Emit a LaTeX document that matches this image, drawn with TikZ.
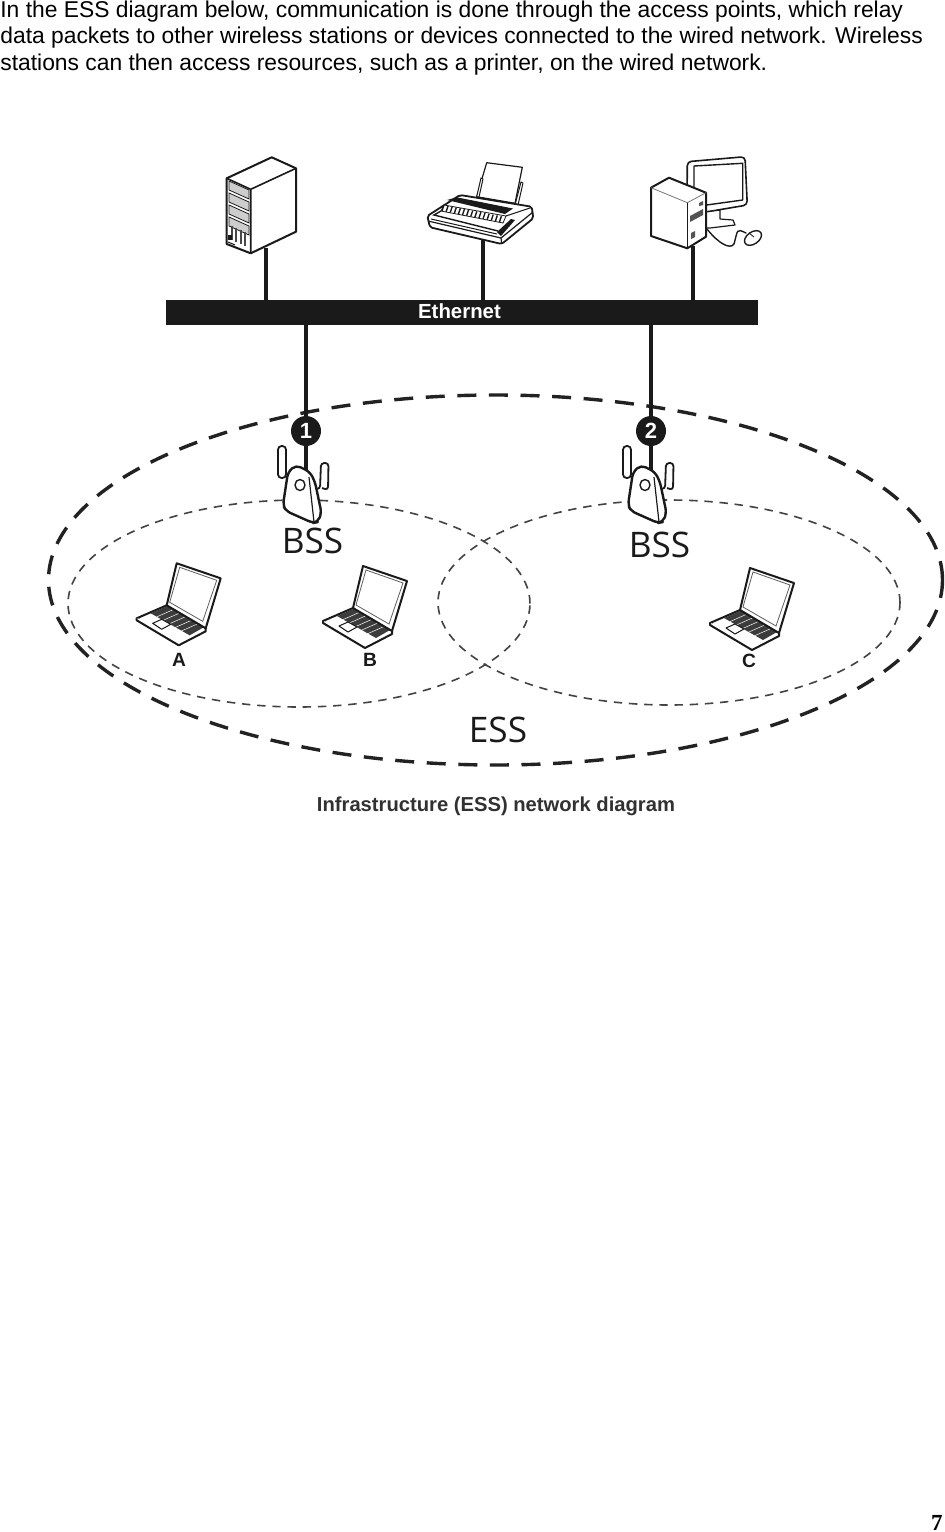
\documentclass[tikz,border=0pt]{standalone}
\usepackage{fontspec}
\setmainfont{Liberation Sans}
\newfontfamily\lightsans{Open Sans}
\newfontfamily\serifbold{Liberation Serif}
\usetikzlibrary{shapes.geometric}
\definecolor{ink}{HTML}{1A1A1A}
\definecolor{dashc}{HTML}{222222}
\tikzset{
  body/.style={font=\fontsize{11.42}{13}\selectfont,anchor=base west,inner sep=0pt,text=black},
  bigring/.style={ellipse,draw=dashc,line width=1.7pt,dash pattern=on 9.5pt off 6.3pt,inner sep=0pt},
  smallring/.style={ellipse,draw=dashc!85,line width=.8pt,dash pattern=on 4.2pt off 3.4pt,inner sep=0pt},
  wire/.style={draw=ink,line width=2pt},
  icon/.style={draw=ink,line width=.8pt,line join=round,fill=white},
  badge/.style={circle,fill=ink,text=white,font=\fontsize{11}{11}\bfseries\selectfont,minimum size=15pt,inner sep=0pt},
  lab/.style={font=\fontsize{17.6}{18}\lightsans\selectfont,text=ink,inner sep=0pt,anchor=base},
  tag/.style={font=\fontsize{9.6}{10}\bfseries\selectfont,text=ink,inner sep=0pt,anchor=base},
  ap/.pic={
    \draw[icon,rounded corners=1.8pt,line width=.9pt] (-28,47) -- (-28,15) -- (-20,15) -- (-20,47) -- cycle;
    \draw[icon,rounded corners=1.6pt,line width=.9pt] (16,57) -- (22,59) -- (22.5,32) -- (15,32) -- (14,58) -- (6,58);
    \draw[icon,rounded corners=2.5pt,line width=1.2pt] (-18,41) -- (-10,34) -- (4,41) -- (9,51) -- (15.5,82) -- (12,91) -- (7,92) -- (-20,80) -- (-23,74) -- cycle;
    \draw[line width=.6pt,draw=ink] (3,46) -- (8,91);
    \draw[icon,line width=.7pt] (-6,54) ellipse (5 and 5.5);
  },
  laptop/.pic={
    \fill[white] (0,0) -- (44,15) -- (29,65) -- (-10,42) -- cycle;
    \draw[icon,line width=1pt] (-40,55) -- (-10,42) -- (29,65) -- (2,80) -- cycle;
    \draw[icon,line width=1pt] (-40,55) -- (-40,57) -- (2,82) -- (29,68) -- (29,65);
    \fill[ink!85] (-26,50) -- (-9,42.5) -- (27,64) -- (13,72) -- cycle;
    \foreach \i in {1,...,5}{
      \draw[draw=white,line width=.25pt] ({-26+\i*6},{50+\i*3.6}) -- ({-9+\i*6},{42.5+\i*3.6});
    }
    \draw[icon,line width=.5pt] (-24,60) -- (-15,56) -- (-6,61) -- (-15,66) -- cycle;
    \draw[icon,line width=1pt] (0,0) -- (44,15) -- (29,65) -- (-10,42) -- cycle;
    \draw[draw=ink!70,line width=.4pt] (3,4) -- (40,17) -- (26,58) -- (-7,39) -- cycle;
  }
}
\begin{document}
\begin{tikzpicture}[x=0.5pt,y=-0.5pt]
\useasboundingbox (0,0) rectangle (944,1532);
\fill[white] (0,0) rectangle (944,1532);

% text
\node[body] (t1) at (0,17) {In the ESS diagram below, communication is done through the access points, which relay};
\node[body] (t2) at (0,43.5) {data packets to other wireless stations or devices connected to the wired network. Wireless};
\node[body] (t3) at (0,70) {stations can then access resources, such as a printer, on the wired network.};
\node[font=\fontsize{11.5}{13}\serifbold\bfseries\selectfont,anchor=base east,inner sep=0pt] (pg) at (943,1530) {7};

% rings
\node[smallring,minimum width=231pt,minimum height=103.5pt] (bss1) at (299,603.5) {};
\node[smallring,minimum width=231pt,minimum height=102.5pt] (bss2) at (669,602.5) {};
\node[bigring,minimum width=447pt,minimum height=185pt] (ess) at (495.5,580) {};

% Ethernet bar
\node[fill=ink,minimum width=296pt,minimum height=12.5pt,inner sep=0pt] (bar) at (462,312.5) {};
\node[text=white,font=\fontsize{10.2}{11}\bfseries\selectfont,inner sep=0pt] (ethlab) at (459.5,311.5) {Ethernet};

% anchors of the icons
\coordinate (srv) at (265.5,248);
\coordinate (prn) at (482.5,240);
\coordinate (pc) at (693,246);
\node[badge] (n1) at (306,431) {1};
\node[badge] (n2) at (651,431) {2};

% connectors
\draw[wire] (srv) -- (srv |- bar.north);
\draw[wire] (prn) -- (prn |- bar.north);
\draw[wire] (pc) -- (pc |- bar.north);
\draw[wire] (n1 |- bar.south) -- (n1.north);
\draw[wire] (n2 |- bar.south) -- (n2.north);
\draw[wire,line width=1.6pt] (n1.south) -- ++(0,30);
\draw[wire,line width=1.6pt] (n2.south) -- ++(0,30);

% server
\draw[icon,line width=1pt] (226.7,178.3) -- (271.7,157.3) -- (296,168.3) -- (296,231.7) -- (250.7,253.3) -- (226.7,244) -- cycle;
\draw[draw=ink,line width=.8pt] (226.7,178.3) -- (250.7,189.3) -- (296,168.3) (250.7,189.3) -- (250.7,253.3);
\foreach \y in {0,12,24,36}{
  \draw[draw=ink,fill=ink!22,line width=.4pt] (229,{181+\y}) -- (249,{190+\y}) -- (249,{199+\y}) -- (229,{190+\y}) -- cycle;
}
\foreach \x/\d in {232/0,236/2,241/4,245/6}{
  \draw[draw=ink!80,line width=.6pt] (\x,{226+\d}) -- (\x,{240+\d});
}
\fill[ink] (228,235) rectangle (232,240);
\draw[draw=ink,line width=.5pt] (228,242) -- (235,245);

% printer
\draw[icon,line width=.6pt] (486.7,162.7) -- (522.3,167.3) -- (515,203.3) -- (476.7,196.7) -- cycle;
\draw[icon,line width=.5pt] (481,178) -- (476.7,196.7) -- (479,197) -- (483,179) -- cycle;
\draw[icon,line width=.5pt] (521,182) -- (515,205) -- (518,205) -- (523,183) -- cycle;
\draw[icon,line width=.9pt,rounded corners=1pt] (427.3,216) -- (460,195) -- (531.7,206.7) -- (533.3,218.3) -- (501.7,244) -- (430,227.3) -- cycle;
\draw[draw=ink,line width=.6pt] (428,221) -- (501,238) -- (533,212) (501,238) -- (501.7,244);
\fill[ink] (447,200) -- (456.7,197.3) -- (513,208.5) -- (505,214) -- cycle;
\draw[draw=ink,fill=white,line width=.4pt] (444,205) -- (506,216) -- (503,223) -- (441,211) -- cycle;
\foreach \i in {0,...,14}{
  \draw[draw=ink,line width=.7pt] ({444+\i*4.1},{205+\i*.8}) -- ({442+\i*4.1},{211+\i*.8});
}
\draw[draw=ink,line width=.7pt] (441,211) -- (434,215) -- (498,231);
\draw[draw=ink,line width=.5pt] (431,219) -- (497,234);
\fill[ink] (497,232) -- (511,219) -- (515,220) -- (501,236) -- cycle;
\draw[draw=ink,line width=.5pt] (506,216) -- (530,208);

% computer
\draw[icon,line width=.8pt,rounded corners=2pt] (687.3,161.7) -- (745,156.7) -- (747.3,205) -- (706,212) -- (687,212) -- cycle;
\draw[icon,line width=.7pt] (694,166) -- (742.7,163.3) -- (742.7,200) -- (706.7,205) -- (694,205) -- cycle;
\draw[icon,line width=.6pt] (706,212) -- (720,210) -- (720,219) -- (733,220) -- (735,225) -- (710,228) -- (706,228) -- cycle;
\draw[draw=ink,line width=.7pt,line cap=round] (707,229) .. controls (718,243) and (730,250) .. (734,244) .. controls (738,230) and (736,228) .. (746,233);
\draw[icon,line width=.7pt,rotate around={35:(753,238)}] (753,238) ellipse (9.5 and 6);
\draw[draw=ink,line width=.4pt] (749,233) -- (754,237);
\draw[icon,line width=1pt] (651,187.7) -- (669,177.7) -- (706,192.7) -- (706,236.7) -- (687.3,248.3) -- (651,236) -- cycle;
\draw[draw=ink!60,line width=.4pt] (651,187.7) -- (687.3,202.7) -- (706,192.7);
\draw[draw=ink,line width=.6pt] (687.3,202.7) -- (687.3,248.3);
\fill[ink!75] (699,203) -- (703,201) -- (703,205) -- (699,206) -- cycle;
\fill[ink!75] (690,216) -- (703,209) -- (703,215) -- (690,222) -- cycle;
\fill[ink!75] (691,233) -- (695,231) -- (695,237) -- (691,239) -- cycle;

% access points and their labels
\pic at (306,431) {ap};
\pic at (651,431) {ap};
\node[lab] (bss1lab) at (312.5,553) {BSS};
\node[lab] (bss2lab) at (659.5,557) {BSS};
\node[lab] (esslab) at (498,742) {ESS};

% laptops
\pic at (176.7,563.3) {laptop};
\pic at (363,566) {laptop};
\pic at (750,568) {laptop};
\node[tag] (la) at (179,666) {A};
\node[tag] (lb) at (370,666) {B};
\node[tag] (lc) at (749,667) {C};

% caption
\node[font=\fontsize{10.1}{11}\bfseries\selectfont,text=ink!90,inner sep=0pt,anchor=base] (cap) at (496,811) {Infrastructure (ESS) network diagram};
\end{tikzpicture}
\end{document}
